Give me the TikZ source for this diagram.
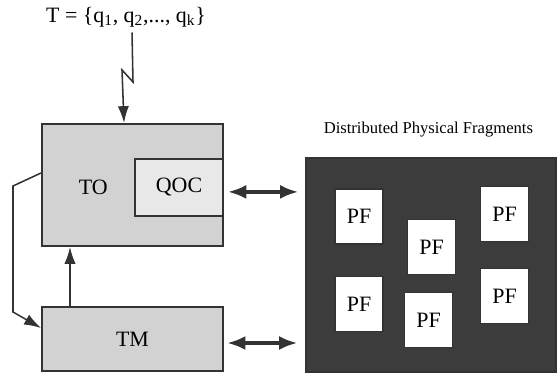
\documentclass[tikz,border=0pt]{standalone}
\usepackage{fontspec}
\setmainfont{Liberation Serif}
\usepackage{xcolor}
\usetikzlibrary{arrows.meta}
\usetikzlibrary{positioning}

\definecolor{boxgray}{HTML}{D2D2D2}
\definecolor{qocgray}{HTML}{E8E8E8}
\definecolor{storegray}{HTML}{3C3C3C}
\definecolor{edgegray}{HTML}{333333}

\begin{document}
\begin{tikzpicture}[
    every node/.style={rectangle, font=\fontsize{15.6}{18}\selectfont},
    module/.style={draw=edgegray, line width=1.4pt, fill=boxgray, minimum width=4.525cm},
    frag/.style={draw=edgegray, line width=0.8pt, fill=white, minimum width=1.2cm, minimum height=1.375cm},
    link/.style={->, line width=1.1pt, draw=edgegray},
    duplex/.style={{Latex[length=13pt, width=10pt]}-{Latex[length=13pt, width=10pt]}, line width=2.4pt, draw=edgegray},
  ]
\tikzset{>={Latex[length=12pt, width=8pt]}}
  \useasboundingbox (0,0) rectangle (13.95,9.35);

  \node (T) at (3.15, 8.93) {T = \{q\textsubscript{1}, q\textsubscript{2},..., q\textsubscript{k}\}};

  \node[module, minimum height=3.05cm] (TO) at (3.3125, 4.725) {};
  \node[module, fill=qocgray, minimum width=2.2cm, minimum height=1.425cm] (QOC) at (4.475, 4.6625) {QOC};
  \node (TOlabel) at (2.33, 4.675) {TO};
  \node[module, minimum height=1.6cm] (TM) at (3.3125, 0.875) {TM};

  \node[draw=edgegray, line width=1pt, fill=storegray, minimum width=6.25cm, minimum height=5.35cm] (store) at (10.775, 2.725) {};
  \node[font=\fontsize{11.8}{14}\selectfont] (title) at (10.71, 6.1) {Distributed Physical Fragments};

  \node[frag] (pf1) at (8.975, 3.9375)  {PF};
  \node[frag] (pf2) at (10.7875, 3.175) {PF};
  \node[frag] (pf3) at (12.6125, 4.0)   {PF};
  \node[frag] (pf4) at (8.975, 1.75)    {PF};
  \node[frag] (pf5) at (10.7125, 1.35)  {PF};
  \node[frag] (pf6) at (12.6125, 1.95)  {PF};

  \draw[link] ([xshift=0.15cm, yshift=-0.02cm]T.south) -- (3.325, 7.3) -- (3.05, 7.6) -- ([xshift=-0.2125cm]TO.north);
  \draw[link] ([xshift=-1.5625cm]TM.north) -- ([xshift=-1.5625cm]TO.south);
  \draw[link] ([yshift=0.3cm]TO.west) -- (0.325, 4.7) -- (0.325, 1.55) -- ([yshift=0.275cm]TM.west);

  \draw[duplex] ([xshift=0.1cm, yshift=-0.11cm]QOC.east) -- ([xshift=-0.175cm, yshift=-0.11cm]QOC.east -| store.west);
  \draw[duplex] ([xshift=0.08cm, yshift=-0.1cm]TM.east) -- ([xshift=-0.2cm, yshift=-0.1cm]TM.east -| store.west);

  \end{tikzpicture}
\end{document}
